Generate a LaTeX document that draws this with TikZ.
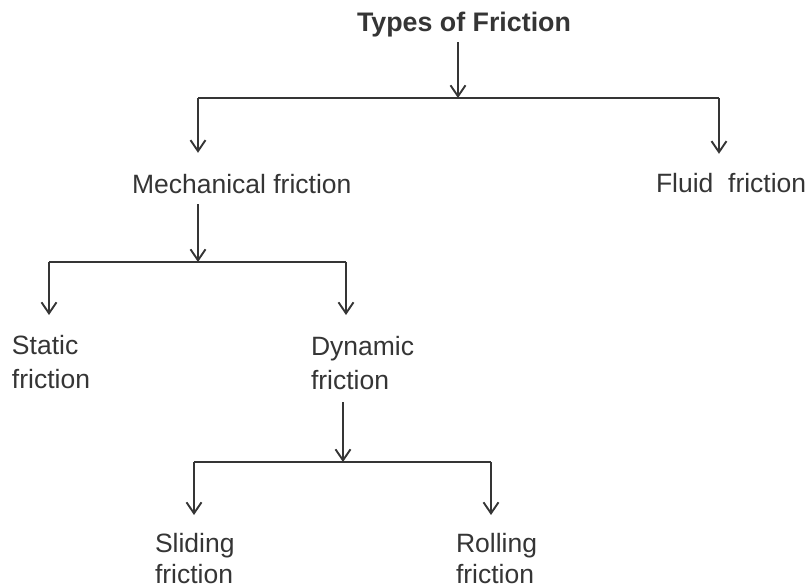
\documentclass[tikz,border=0pt]{standalone}
\usepackage{fontspec}
\setmainfont{Liberation Sans}
\usetikzlibrary{arrows.meta}
\definecolor{ink}{HTML}{353535}
\tikzset{
  lbl/.style={font=\fontsize{26.5}{34}\selectfont, text=ink, inner sep=0pt, outer sep=0pt, align=left},
  lbllow/.style={lbl, font=\fontsize{26.5}{31.5}\selectfont},
  arr/.style={draw=ink, line width=1.3pt, -{Straight Barb[length=11pt,width=15pt,line width=1.9pt]}},
  ln/.style={draw=ink, line width=1.3pt}
}
\begin{document}
\begin{tikzpicture}[x=1pt,y=-1pt]
\useasboundingbox (0,0) rectangle (809,588);
% nodes
\node[lbl, font=\fontsize{26.8}{34}\selectfont\bfseries, anchor=base] (title) at (464,32) {Types of Friction};
\node[lbl, anchor=base west] (mech) at (132,194) {Mechanical friction};
\node[lbl, anchor=base west] (fluid) at (656,193) {Fluid\ \ friction};
\node[lbl, anchor=north west] (static) at (12,335) {Static\\friction};
\node[lbl, anchor=north west] (dyn) at (311,336) {Dynamic\\friction};
\node[lbllow, anchor=north west] (slide) at (155,533) {Sliding\\friction};
\node[lbllow, anchor=north west] (roll) at (456,533) {Rolling\\friction};
% branch points
\coordinate (b1) at (458,98);
\coordinate (L1) at (198,98);
\coordinate (R1) at (719,98);
\coordinate (b2) at (198,262);
\coordinate (L2) at (49,262);
\coordinate (R2) at (346,262);
\coordinate (b3) at (343,462);
\coordinate (L3) at (194,462);
\coordinate (R3) at (491,462);
% level 1
\draw[arr, shorten <=4.5pt] (title.south -| b1) -- (b1);
\draw[ln] (L1) -- (R1);
\draw[arr, shorten >=22pt] (L1) -- (L1 |- mech.north);
\draw[arr, shorten >=20pt] (R1) -- (R1 |- fluid.north);
% level 2
\draw[arr, shorten <=10pt] (mech.south -| b2) -- (b2);
\draw[ln] (L2) -- (R2);
\draw[arr, shorten >=20pt] (L2) -- (L2 |- static.north);
\draw[arr, shorten >=21pt] (R2) -- (R2 |- dyn.north);
% level 3
\draw[arr, shorten <=13pt] (dyn.south -| b3) -- (b3);
\draw[ln] (L3) -- (R3);
\draw[arr, shorten >=18pt] (L3) -- (L3 |- slide.north);
\draw[arr, shorten >=18pt] (R3) -- (R3 |- roll.north);
\end{tikzpicture}
\end{document}
